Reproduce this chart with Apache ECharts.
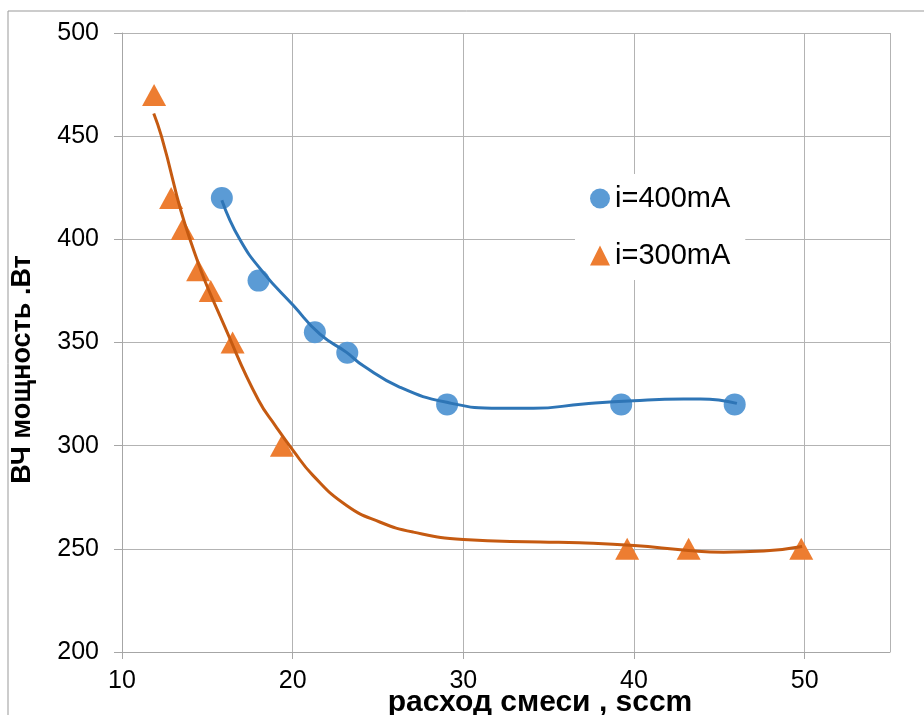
<!DOCTYPE html>
<html><head><meta charset="utf-8">
<script src="https://cdn.jsdelivr.net/npm/echarts@6/dist/echarts.min.js"></script>
<style>html,body{margin:0;padding:0;background:#fff}#c{width:924px;height:715px}</style>
</head><body><div id="c"></div>
<script>
// Measured points
const blueX = [15.85, 18.0, 21.3, 23.2, 29.05, 39.25, 45.9];
const blueY = [420, 380, 355, 345, 320, 320, 320];
const orangeX = [11.88, 12.88, 13.56, 14.46, 15.2, 16.48, 19.37, 39.6, 43.2, 49.8];
const orangeY = [470, 420, 405, 385, 375, 350, 300, 250, 250, 250];
// Trendlines
const blueTrendX = [15.85, 16.9, 18.27, 20.03, 21.6, 23.16, 24.14, 26.29, 29.03, 32.15, 34.1, 37.04, 39.97, 42.9, 43.9, 46.03];
const blueTrendY = [419, 400, 384, 368, 354, 345.2, 338.7, 328.3, 321, 318.1, 318.1, 320.2, 321.8, 322.6, 322.6, 320.5];
const orangeTrendX = [11.86, 12.31, 13.98, 16.42, 18, 19, 20, 21.2, 23.16, 25.1, 27.07, 30, 34.5, 36.8, 40, 43.2, 45.25, 47.6, 49.85];
const orangeTrendY = [461, 450, 400, 350, 322, 309.5, 298, 285.5, 271, 263, 258.1, 254.5, 253.3, 252.9, 251.6, 249.2, 248.4, 248.9, 251.1];
const seriesNames = ['i=400mA', 'i=300mA'];
const xTitle = 'расход смеси , sccm';
const yTitle = 'ВЧ мощность .Вт';

const zip = (a, b) => a.map((v, i) => [v, b[i]]);
const chart = echarts.init(document.getElementById('c'), null, {renderer: 'canvas'});
const font = 'Liberation Sans, Arial, sans-serif';
chart.setOption({
  animation: false,
  backgroundColor: '#fff',
  textStyle: {fontFamily: font},
  graphic: [{type: 'rect', shape: {x: 8, y: 11, width: 1000, height: 800}, style: {fill: 'none', stroke: '#999', lineWidth: 1}, z: -10}],
  grid: {left: 122, right: 34, top: 33, bottom: 63, containLabel: false, outerBoundsMode: 'none'},
  legend: {
    orient: 'vertical', left: 575, top: 174, itemGap: 28, itemWidth: 20, itemHeight: 20,
    backgroundColor: '#fff', padding: [10, 15, 10, 15],
    textStyle: {fontSize: 29, color: '#000', fontFamily: font},
    data: [{name: seriesNames[0], icon: 'circle'}, {name: seriesNames[1], icon: 'triangle'}]
  },
  xAxis: {
    type: 'value', min: 10, max: 55, interval: 10,
    name: xTitle, nameLocation: 'middle', nameGap: 36, nameMoveOverlap: false,
    nameTextStyle: {fontSize: 30, fontWeight: 'bold', color: '#000', fontFamily: font, padding: [0, 0, 0, 68]},
    axisLine: {show: true, lineStyle: {color: '#a6a6a6'}},
    axisTick: {show: true, length: 7, lineStyle: {color: '#a6a6a6'}},
    axisLabel: {fontSize: 25, color: '#000', margin: 17, showMaxLabel: false},
    splitLine: {show: true, lineStyle: {color: '#b3b3b3'}}
  },
  yAxis: {
    type: 'value', min: 200, max: 500, interval: 50,
    name: yTitle, nameLocation: 'middle', nameGap: 86, nameRotate: 90, nameMoveOverlap: false,
    nameTextStyle: {fontSize: 27, fontWeight: 'bold', color: '#000', fontFamily: font, padding: [0, 54, 0, 0]},
    axisLine: {show: true, lineStyle: {color: '#a6a6a6'}},
    axisTick: {show: true, length: 8, lineStyle: {color: '#a6a6a6'}},
    axisLabel: {fontSize: 25, color: '#000', margin: 23},
    splitLine: {show: true, lineStyle: {color: '#b3b3b3'}}
  },
  series: [
    {name: seriesNames[0], type: 'scatter', symbol: 'circle', symbolSize: 22, itemStyle: {color: '#5B9BD5', opacity: 1}, data: zip(blueX, blueY), z: 3},
    {name: seriesNames[1], type: 'scatter', symbol: 'triangle', symbolSize: [24, 22], itemStyle: {color: '#ED7D31', opacity: 1}, data: zip(orangeX, orangeY), z: 3},
    {name: 'trend400', type: 'line', smooth: 0.5, showSymbol: false, symbol: 'none', lineStyle: {color: '#2E75B6', width: 3}, data: zip(blueTrendX, blueTrendY), z: 4},
    {name: 'trend300', type: 'line', smooth: 0.5, showSymbol: false, symbol: 'none', lineStyle: {color: '#C55A11', width: 3}, data: zip(orangeTrendX, orangeTrendY), z: 4}
  ]
});
</script></body></html>
